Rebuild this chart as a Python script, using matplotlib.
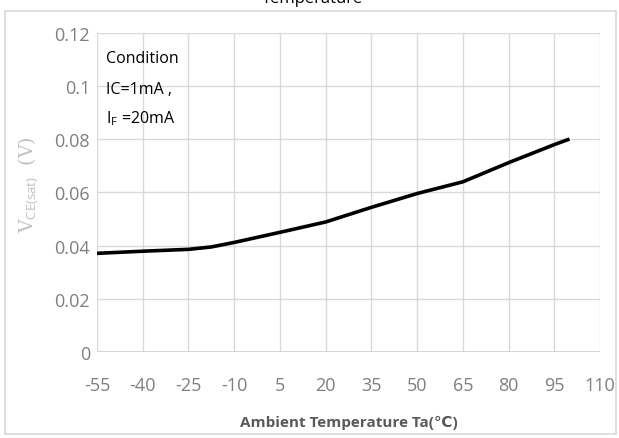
import matplotlib
matplotlib.use("Agg")
import matplotlib.pyplot as plt
from matplotlib.patches import Rectangle

# V_CE(sat) vs ambient temperature
temp = [-55, -40, -25, -17.5, -10, 5, 20, 35, 50, 65, 80, 95, 100]
vce = [0.0371, 0.0379, 0.0386, 0.0395, 0.0412, 0.0450, 0.0489, 0.0544,
       0.0596, 0.0640, 0.0712, 0.0780, 0.0801]

xticks = [-55, -40, -25, -10, 5, 20, 35, 50, 65, 80, 95, 110]
yticks = [0, 0.02, 0.04, 0.06, 0.08, 0.1, 0.12]
ytick_labels = ["0", "0.02", "0.04", "0.06", "0.08", "0.1", "0.12"]

plt.rcParams['font.family'] = ['Open Sans', 'DejaVu Sans']
plt.rcParams['mathtext.fontset'] = 'custom'
plt.rcParams['mathtext.rm'] = 'Open Sans'

fig = plt.figure(figsize=(6.19, 4.39), dpi=100)
ax = fig.add_axes([0.1567, 0.196, 0.8126, 0.7266])

# outer chart frame
fig.patches.append(Rectangle((5/619, 4/439), 611/619, 423/439, transform=fig.transFigure,
                             fill=False, edgecolor='#d9d9d9', linewidth=1.2))

ax.plot(temp, vce, color='black', linewidth=2.6, solid_capstyle='butt')

ax.set_xlim(-55, 110)
ax.set_ylim(0, 0.12)
ax.set_xticks(xticks)
ax.set_xticklabels([str(t) for t in xticks])
ax.set_yticks(yticks)
ax.set_yticklabels(ytick_labels)
ax.tick_params(length=0, labelsize=13, colors='#7f7f7f')
ax.tick_params(axis='x', pad=17)
ax.tick_params(axis='y', pad=5)
ax.grid(True, color='#d9d9d9', linewidth=1)
for s in ax.spines.values():
    s.set_visible(False)
ax.axhline(0, color='#d0d0d0', linewidth=1.2)

ax.set_xlabel('Ambient Temperature Ta(℃)', fontsize=11, fontweight='bold',
              color='#595959', labelpad=15)
fig.text(0.046, 0.58, r'V$_{\mathrm{CE(sat)}}$  (V)', rotation=90, ha='center', va='center',
         fontsize=13.5, color='#c0c0c0', family='DejaVu Serif')

ax.text(106/619, 1 - 59/439, 'Condition', transform=fig.transFigure, fontsize=11.5, va='center')
ax.text(106/619, 1 - 90/439, 'IC=1mA ,', transform=fig.transFigure, fontsize=11.5, va='center')
ax.text(106/619, 1 - 119/439, r'I$_{\mathrm{F}}$ =20mA', transform=fig.transFigure,
        fontsize=11.5, va='center')

fig.text(313/619, 1 - 3/439, 'Temperature', ha='center', va='baseline', fontsize=12)

fig.savefig('out.png', dpi=100)
